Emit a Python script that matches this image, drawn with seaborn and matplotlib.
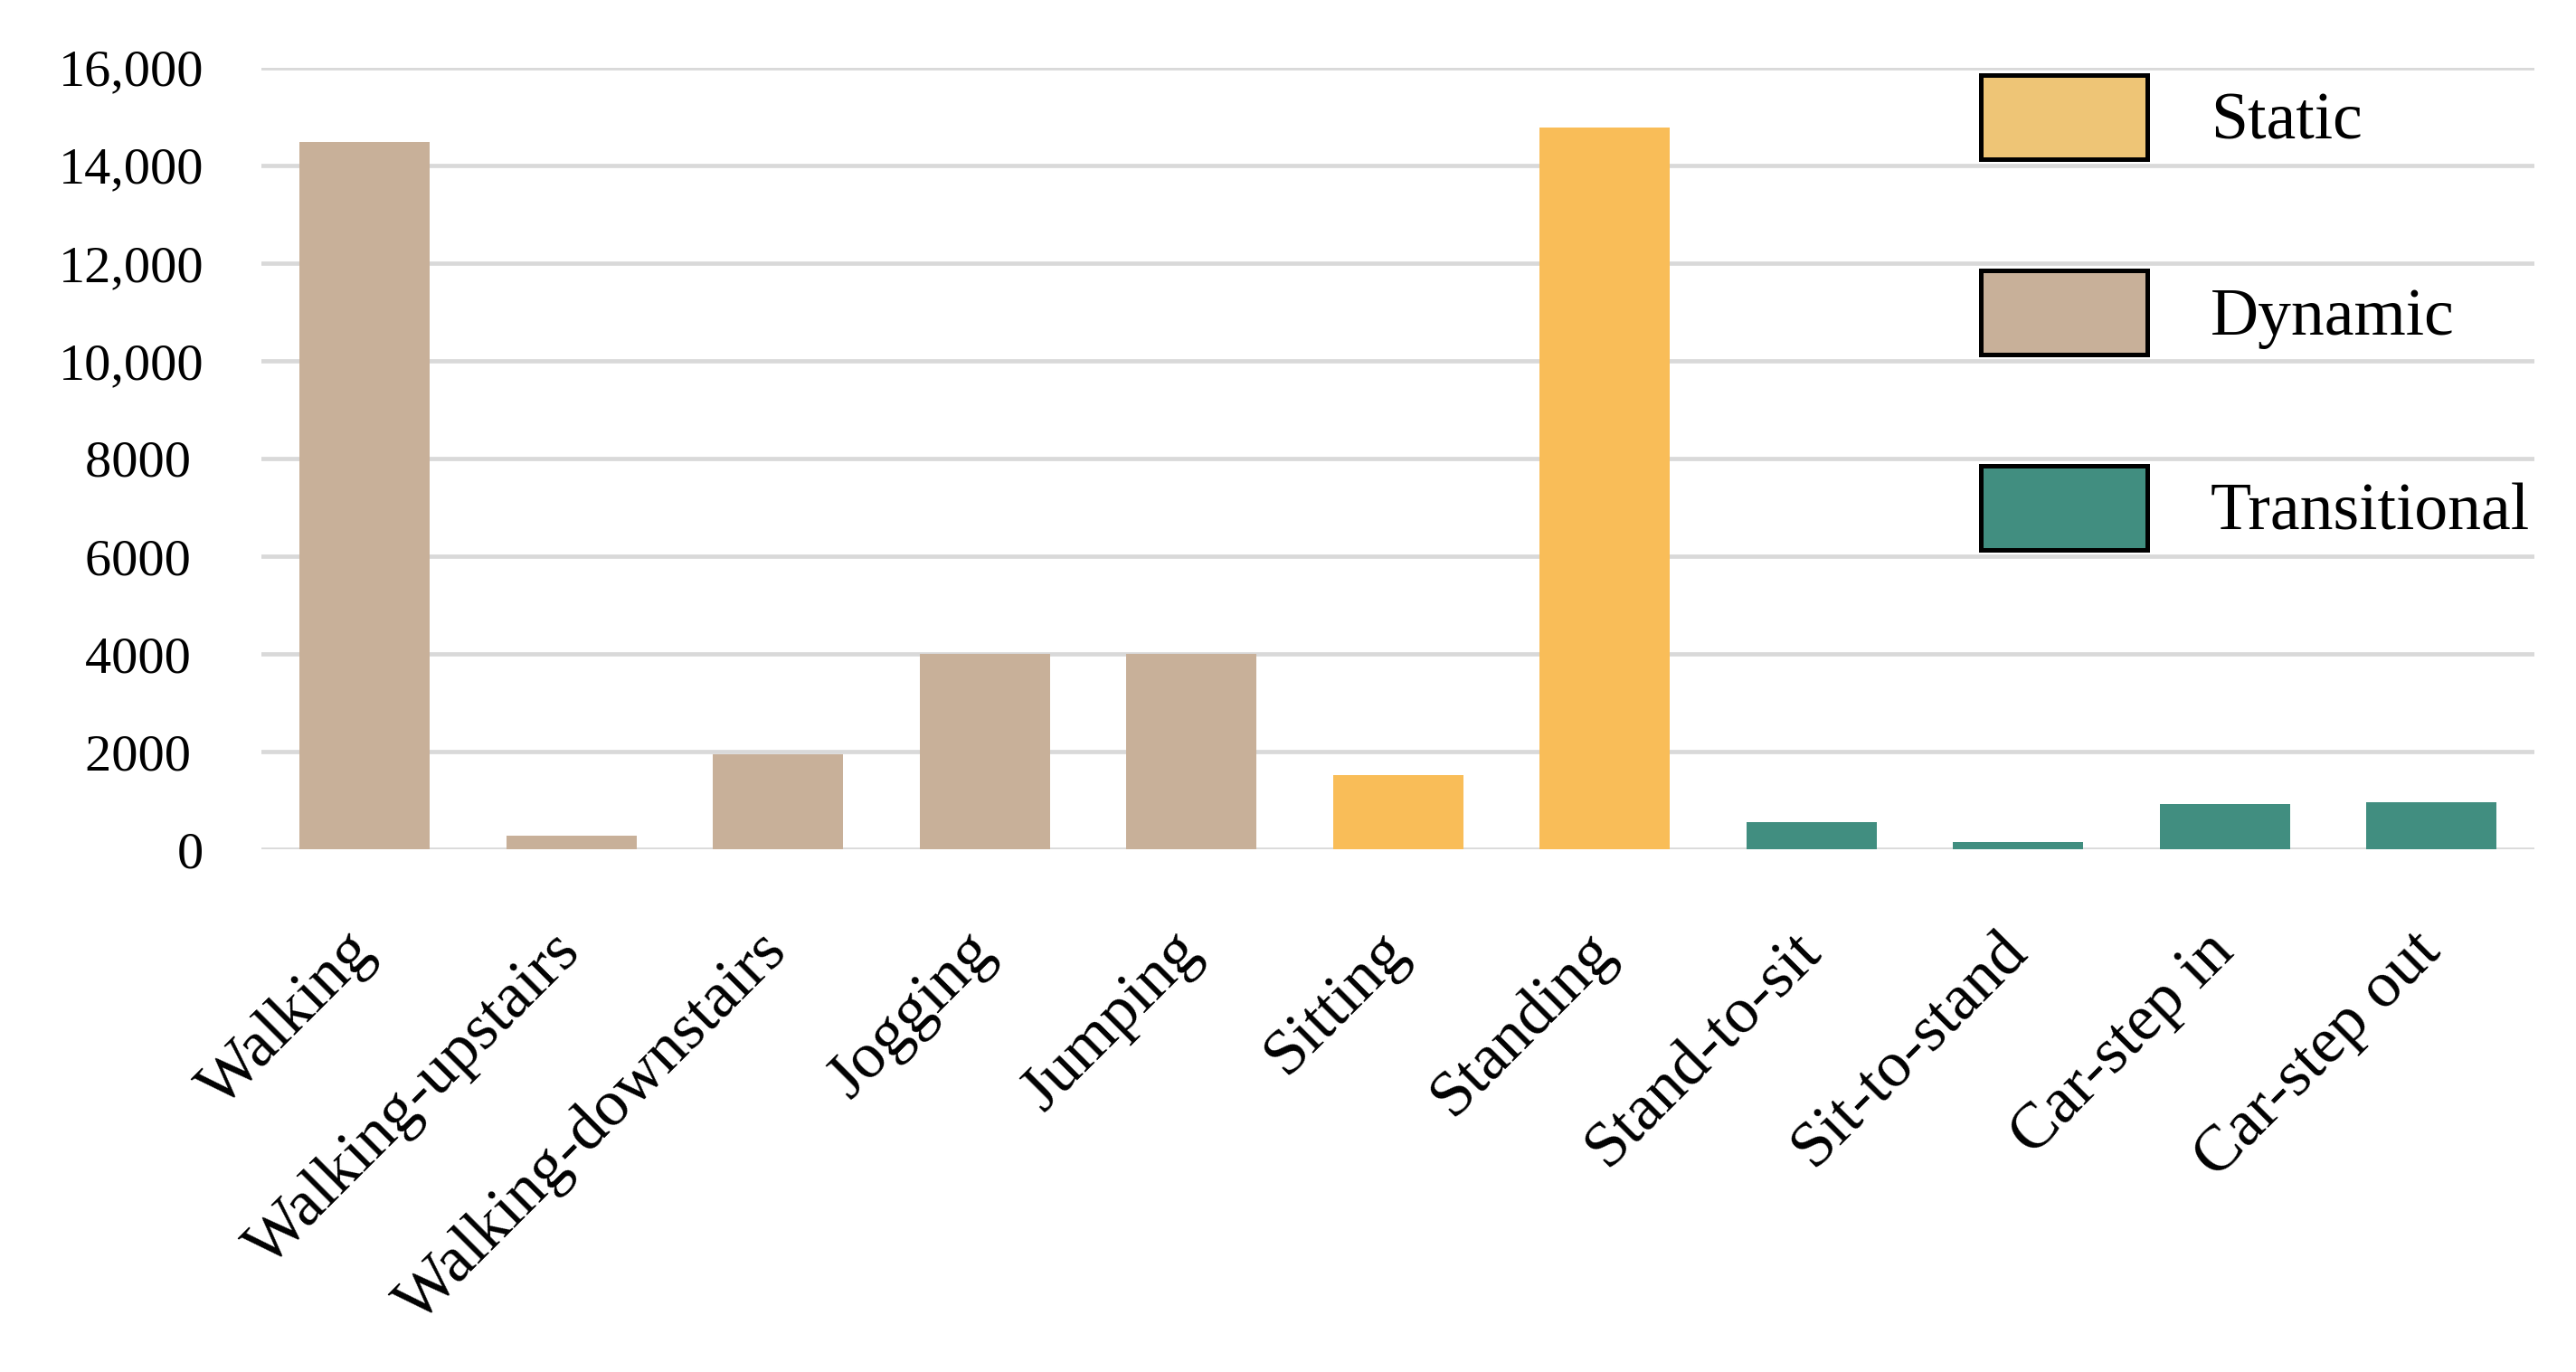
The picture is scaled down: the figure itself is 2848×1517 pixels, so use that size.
import matplotlib
matplotlib.use("Agg")
import matplotlib.pyplot as plt
from matplotlib.patches import Patch
import pandas as pd
import seaborn as sns

activities = ["Walking", "Walking-upstairs", "Walking-downstairs", "Jogging", "Jumping",
              "Sitting", "Standing", "Stand-to-sit", "Sit-to-stand", "Car-step in", "Car-step out"]
counts = [14480, 290, 1950, 4010, 4010, 1530, 14780, 560, 155, 925, 965]
groups = ["Dynamic", "Dynamic", "Dynamic", "Dynamic", "Dynamic",
          "Static", "Static", "Transitional", "Transitional", "Transitional", "Transitional"]

y_ticks = [0, 2000, 4000, 6000, 8000, 10000, 12000, 14000, 16000]
y_tick_labels = ["0", "2000 ", "4000 ", "6000 ", "8000 ", "10,000", "12,000", "14,000", "16,000"]

legend_labels = ["Static", "Dynamic", "Transitional"]
bar_colors = {"Static": "#F9BD58", "Dynamic": "#C8B099", "Transitional": "#418E80"}
legend_colors = {"Static": "#EEC576", "Dynamic": "#C8B099", "Transitional": "#418E80"}

df = pd.DataFrame({"activity": activities, "count": counts, "group": groups})

sns.set_style("white")
plt.rcParams["font.family"] = ["Liberation Serif", "DejaVu Serif"]
plt.rcParams["text.color"] = "black"
plt.rcParams["xtick.color"] = "black"
plt.rcParams["ytick.color"] = "black"

fig = plt.figure(figsize=(28.48, 15.17), dpi=100)
ax = fig.add_axes([0.1015, 0.3808, 0.984 - 0.1015, 0.9508 - 0.3808])

sns.barplot(data=df, x="activity", y="count", hue="group", palette=bar_colors,
            dodge=False, width=0.63, legend=False, ax=ax, saturation=1, linewidth=0)

ax.set_ylim(0, 16000)
ax.set_xlim(-0.5, len(activities) - 0.5)
ax.set_yticks(y_ticks)
ax.set_yticklabels(y_tick_labels, fontsize=42, color="black")
ax.set_xticks(range(len(activities)))
ax.set_xticklabels(activities, fontsize=52, rotation=45, ha="right", va="center",
                   rotation_mode="anchor", color="black")
ax.tick_params(axis="y", length=0, pad=46)
ax.tick_params(axis="x", length=0, pad=74)
ax.set_xlabel("")
ax.set_ylabel("")
ax.yaxis.grid(True, color="#D9D9D9", linewidth=3.4)
ax.set_axisbelow(True)
sns.despine(ax=ax, left=True, bottom=True)

handles = [Patch(facecolor=legend_colors[g], edgecolor="black", linewidth=3.6) for g in legend_labels]
leg = ax.legend(handles, legend_labels, loc="upper left", frameon=False, fontsize=53,
                bbox_to_anchor=(2190 / 2848, 1 - 83 / 1517), bbox_transform=fig.transFigure,
                borderpad=0, borderaxespad=0, handlelength=2.5, handleheight=1.57,
                labelspacing=1.67, handletextpad=0.95)
for t in leg.get_texts():
    t.set_color("black")

fig.savefig("out.png", dpi=100)
